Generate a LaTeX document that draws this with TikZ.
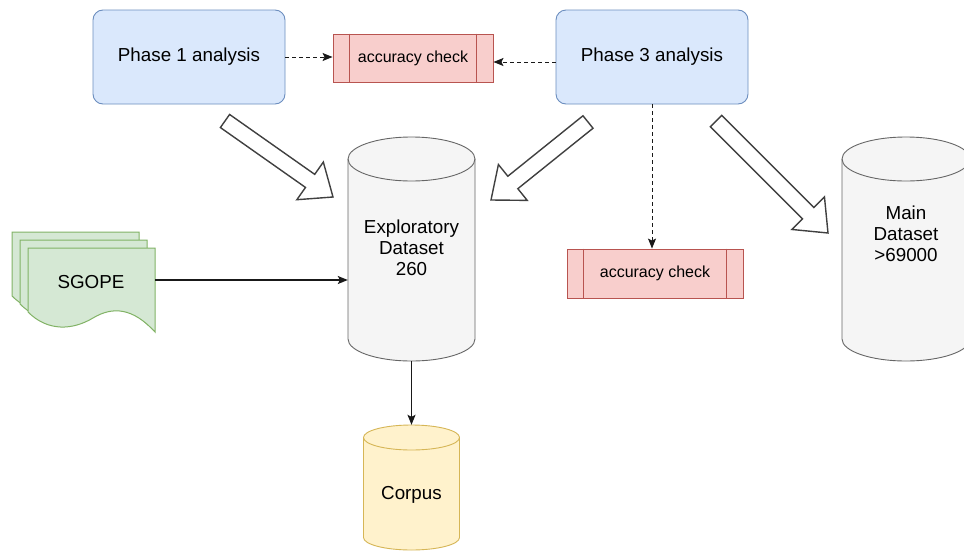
\documentclass[tikz,border=0pt]{standalone}
\usepackage{fontspec}
\setmainfont{Liberation Sans}
\usetikzlibrary{arrows.meta,calc}
\definecolor{phasefill}{HTML}{DAE8FC}
\definecolor{phaseedge}{HTML}{6C8EBF}
\definecolor{accfill}{HTML}{F8CECC}
\definecolor{accedge}{HTML}{B85450}
\definecolor{docfill}{HTML}{D5E8D4}
\definecolor{docedge}{HTML}{82B366}
\definecolor{corpfill}{HTML}{FFF2CC}
\definecolor{corpedge}{HTML}{D6B656}
\definecolor{dbfill}{HTML}{F5F5F5}
\definecolor{dbedge}{HTML}{666666}
\tikzset{
  phase/.style={draw=phaseedge, fill=phasefill, rounded corners=10pt, line width=0.9pt,
    minimum width=192pt, minimum height=94pt, inner sep=0pt, font=\fontsize{18.8}{21}\selectfont},
  accbox/.style={draw=accedge, fill=accfill, line width=0.9pt, inner sep=0pt,
    minimum width=160pt, minimum height=48pt, font=\fontsize{16}{18}\selectfont},
  docstyle/.style={draw=docedge, fill=docfill, line width=1pt},
  dbstyle/.style={draw=dbedge, fill=dbfill, line width=0.9pt},
  corpstyle/.style={draw=corpedge, fill=corpfill, line width=0.9pt},
  label/.style={font=\fontsize{18.8}{21}\selectfont, align=center, inner sep=0pt},
  conn/.style={draw=black!90, line width=1.2pt, -{Stealth[length=10pt,width=8pt,inset=2pt]}},
  dconn/.style={conn, line width=1pt, dash pattern=on 4pt off 3pt},
  hollow/.style={draw=black!75, fill=white, line width=1.4pt, line join=miter}
}
\newcommand\cylshape[7]{%
  \node[inner sep=0pt, minimum width=#5*2pt, minimum height=#4pt-#3pt] (#1) at (#2,{-(#3+#4)/2}) {};
  \path[#7] (#2-#5,-#3-#6) -- (#2-#5,-#4+#6)
    arc[start angle=180, end angle=360, x radius=#5, y radius=#6]
    -- (#2+#5,-#3-#6)
    arc[start angle=0, end angle=180, x radius=#5, y radius=#6] -- cycle;
  \draw[#7, fill=none] (#2-#5,-#3-#6)
    arc[start angle=180, end angle=360, x radius=#5, y radius=#6];
}
\newcommand\docshape[2]{%
  \begin{scope}[shift={(#1,#2)}]
    \draw[docstyle] (0,0) -- (127,0) -- (127,-84)
      .. controls (105,-60) and (85,-58) .. (65,-70)
      .. controls (45,-82) and (20,-84) .. (0,-64) -- cycle;
  \end{scope}
}
\newcommand\bigarrow[2]{%
  \coordinate (hb) at ($(#2)!28pt!(#1)$);
  \draw[hollow] ($(#1)!8pt!90:(#2)$) -- ($(hb)!8pt!90:(#2)$) -- ($(hb)!23pt!90:(#2)$)
    -- (#2) -- ($(hb)!23pt!-90:(#2)$) -- ($(hb)!8pt!-90:(#2)$) -- ($(#1)!8pt!-90:(#2)$) -- cycle;
}
\begin{document}
\begin{tikzpicture}[x=1pt,y=1pt]
\clip (0,0) rectangle (964,-552);
\fill[white] (0,0) rectangle (964,-552);

% phases
\node[phase] (p1) at (189,-57) {Phase 1 analysis};
\node[phase] (p3) at (652,-57) {Phase 3 analysis};

% accuracy checks
\node[accbox] (acc1) at (413,-58) {accuracy check};
\draw[accedge, line width=0.9pt] ([xshift=17pt]acc1.north west) -- ([xshift=17pt]acc1.south west);
\draw[accedge, line width=0.9pt] ([xshift=-17pt]acc1.north east) -- ([xshift=-17pt]acc1.south east);
\node[accbox, minimum width=176pt, minimum height=49pt] (acc2) at (655,-273.5) {accuracy check};
\draw[accedge, line width=0.9pt] ([xshift=17pt]acc2.north west) -- ([xshift=17pt]acc2.south west);
\draw[accedge, line width=0.9pt] ([xshift=-17pt]acc2.north east) -- ([xshift=-17pt]acc2.south east);

% cylinders
\cylshape{expl}{411.5}{137}{361}{63.5}{22}{dbstyle}
\node[label] (expltext) at (411.5,-248) {Exploratory\\Dataset\\260};
\cylshape{main}{906}{137}{361}{64}{22}{dbstyle}
\node[label] (maintext) at (906,-234) {Main\\Dataset\\>69000};
\cylshape{corpus}{411.5}{425}{550}{48}{12.5}{corpstyle}
\node[label] (corptext) at (411.5,-495) {Corpus};

% SGOPE multi-document
\docshape{12}{-232}
\docshape{20}{-240}
\docshape{28}{-248}
\node[label] (sgope) at (91,-282) {SGOPE};
\coordinate (sgopeR) at (155,-280);

% connectors
\draw[conn] (sgopeR) -- (sgopeR -| expl.west);
\draw[conn] (expl.south) -- (corpus.north);
\draw[dconn] (p1.east) -- (p1.east -| acc1.west);
\draw[dconn] ([yshift=-5pt]p3.west) -- ([yshift=-5pt]p3.west -| acc1.east);
\draw[dconn] (p3.south) -- (p3.south |- acc2.north);

% hollow arrows
\coordinate (a1t) at (225,-121);
\coordinate (a1h) at (333,-197);
\coordinate (a2t) at (588,-122);
\coordinate (a2h) at (491,-200);
\coordinate (a3t) at (716,-121);
\coordinate (a3h) at (828,-233);
\bigarrow{a1t}{a1h}
\bigarrow{a2t}{a2h}
\bigarrow{a3t}{a3h}
\end{tikzpicture}
\end{document}
